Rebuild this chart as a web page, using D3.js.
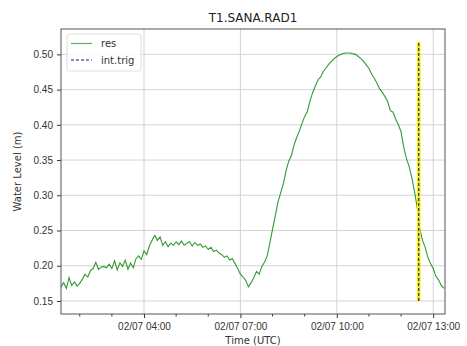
<html>
<head>
<script src="https://d3js.org/d3.v7.min.js"></script>
<style>
  body { margin: 0; background: #fff; }
  svg { font-family: "DejaVu Sans", sans-serif; }
</style>
</head>
<body>
<svg id="chart"></svg>
<script>
// res series: 5-minute samples from 02/07 01:25 UTC to 13:20 UTC
const startTime = "2024-02-07T01:25:00Z";
const stepMinutes = 5;
const resValues = [
  0.170, 0.176, 0.168, 0.183, 0.172, 0.177, 0.171, 0.175, 0.181, 0.188, 0.184, 0.193,
  0.196, 0.205, 0.195, 0.198, 0.199, 0.197, 0.202, 0.196, 0.207, 0.194, 0.204, 0.199,
  0.208, 0.195, 0.204, 0.197, 0.210, 0.214, 0.209, 0.221, 0.216, 0.228, 0.236, 0.243,
  0.236, 0.241, 0.229, 0.234, 0.227, 0.232, 0.229, 0.234, 0.230, 0.235, 0.229, 0.232,
  0.234, 0.228, 0.233, 0.229, 0.231, 0.226, 0.228, 0.223, 0.226, 0.220, 0.222, 0.218,
  0.216, 0.212, 0.214, 0.208, 0.210, 0.203, 0.196, 0.188, 0.184, 0.179, 0.170, 0.176,
  0.183, 0.192, 0.188, 0.199, 0.205, 0.214, 0.232, 0.252, 0.270, 0.290, 0.303, 0.316,
  0.334, 0.348, 0.356, 0.371, 0.382, 0.391, 0.402, 0.412, 0.419, 0.434, 0.446, 0.455,
  0.464, 0.468, 0.476, 0.481, 0.486, 0.490, 0.494, 0.497, 0.499, 0.501, 0.502, 0.502,
  0.502, 0.501, 0.500, 0.497, 0.494, 0.490, 0.485, 0.480, 0.472, 0.466, 0.459, 0.451,
  0.446, 0.440, 0.433, 0.420, 0.418, 0.408, 0.400, 0.390, 0.368, 0.352, 0.341, 0.325,
  0.306, 0.283, 0.252, 0.236, 0.226, 0.212, 0.203, 0.196, 0.185, 0.180, 0.172, 0.168
];

// int.trig marker
const trigTime = "2024-02-07T12:33:00Z";
const trigRange = [0.15, 0.518];

// axes
const xDomain = ["2024-02-07T01:25:00Z", "2024-02-07T13:22:00Z"];
const yDomain = [0.1315, 0.536];
const xTicks = ["2024-02-07T04:00:00Z", "2024-02-07T07:00:00Z", "2024-02-07T10:00:00Z", "2024-02-07T13:00:00Z"];
const xMinorTicks = ["02:00", "03:00", "05:00", "06:00", "08:00", "09:00", "11:00", "12:00"];
const yTicks = [0.15, 0.20, 0.25, 0.30, 0.35, 0.40, 0.45, 0.50];

const width = 467, height = 346;
const margin = { top: 29, right: 22, bottom: 32, left: 61 };

const svg = d3.select("#chart").attr("width", width).attr("height", height);

const t0 = new Date(startTime);
const data = resValues.map((v, i) => ({ t: new Date(+t0 + i * stepMinutes * 60000), v: v }));

const x = d3.scaleUtc()
    .domain(xDomain.map(d => new Date(d)))
    .range([margin.left, width - margin.right]);
const y = d3.scaleLinear()
    .domain(yDomain)
    .range([height - margin.bottom, margin.top]);

// grid
svg.append("g")
    .selectAll("line")
    .data(yTicks)
    .join("line")
    .attr("x1", margin.left).attr("x2", width - margin.right)
    .attr("y1", d => y(d)).attr("y2", d => y(d))
    .attr("stroke", "#d4d4d4").attr("stroke-width", 1);
svg.append("g")
    .selectAll("line")
    .data(xTicks)
    .join("line")
    .attr("x1", d => x(new Date(d))).attr("x2", d => x(new Date(d)))
    .attr("y1", margin.top).attr("y2", height - margin.bottom)
    .attr("stroke", "#d4d4d4").attr("stroke-width", 1);

// res line
const line = d3.line().x(d => x(d.t)).y(d => y(d.v));
svg.append("path")
    .datum(data)
    .attr("fill", "none")
    .attr("stroke", "green")
    .attr("stroke-opacity", 0.8)
    .attr("stroke-width", 1.1)
    .attr("stroke-linejoin", "miter")
    .attr("d", line);

// trigger line
const tx = x(new Date(trigTime));
svg.append("line")
    .attr("x1", tx).attr("x2", tx)
    .attr("y1", y(trigRange[0])).attr("y2", y(trigRange[1]))
    .attr("stroke", "#f5ee00").attr("stroke-width", 3.5);
svg.append("line")
    .attr("x1", tx).attr("x2", tx)
    .attr("y1", y(trigRange[0])).attr("y2", y(trigRange[1]))
    .attr("stroke", "#1a1a60").attr("stroke-width", 1.1)
    .attr("stroke-dasharray", "3,2");

// axes
const xAxis = svg.append("g")
    .attr("transform", `translate(0,${height - margin.bottom})`)
    .call(d3.axisBottom(x)
        .tickValues(xTicks.map(d => new Date(d)))
        .tickFormat(d3.utcFormat("%m/%d %H:%M"))
        .tickSize(4).tickPadding(5));
xAxis.selectAll(".tick text").attr("font-size", 10).attr("fill", "#333");
xAxis.selectAll(".tick line").attr("stroke", "#333");
xAxis.select(".domain").remove();

svg.append("g")
    .selectAll("line")
    .data(xMinorTicks)
    .join("line")
    .attr("x1", d => x(new Date(`2024-02-07T${d}:00Z`)))
    .attr("x2", d => x(new Date(`2024-02-07T${d}:00Z`)))
    .attr("y1", height - margin.bottom)
    .attr("y2", height - margin.bottom + 2.5)
    .attr("stroke", "#333");

const yAxis = svg.append("g")
    .attr("transform", `translate(${margin.left},0)`)
    .call(d3.axisLeft(y)
        .tickValues(yTicks)
        .tickFormat(d3.format(".2f"))
        .tickSize(4).tickPadding(4));
yAxis.selectAll(".tick text").attr("font-size", 10).attr("fill", "#333");
yAxis.selectAll(".tick line").attr("stroke", "#333");
yAxis.select(".domain").remove();

// frame
svg.append("rect")
    .attr("x", margin.left).attr("y", margin.top)
    .attr("width", width - margin.left - margin.right)
    .attr("height", height - margin.top - margin.bottom)
    .attr("fill", "none").attr("stroke", "#555").attr("stroke-width", 1);

// labels
svg.append("text")
    .attr("x", (margin.left + width - margin.right) / 2).attr("y", 22)
    .attr("text-anchor", "middle").attr("font-size", 12).attr("fill", "#222")
    .text("T1.SANA.RAD1");
svg.append("text")
    .attr("x", (margin.left + width - margin.right) / 2).attr("y", 344)
    .attr("text-anchor", "middle").attr("font-size", 10).attr("fill", "#333")
    .text("Time (UTC)");
svg.append("text")
    .attr("transform", `translate(21,${(margin.top + height - margin.bottom) / 2}) rotate(-90)`)
    .attr("text-anchor", "middle").attr("font-size", 10).attr("fill", "#333")
    .text("Water Level (m)");

// legend
const legend = svg.append("g").attr("transform", "translate(67,34)");
legend.append("rect")
    .attr("width", 74).attr("height", 37).attr("rx", 2.5)
    .attr("fill", "#fff").attr("fill-opacity", 0.85)
    .attr("stroke", "#ddd");
legend.append("line")
    .attr("x1", 4).attr("x2", 25).attr("y1", 9.5).attr("y2", 9.5)
    .attr("stroke", "green").attr("stroke-opacity", 0.6).attr("stroke-width", 1.3);
legend.append("text")
    .attr("x", 34).attr("y", 13).attr("font-size", 10).attr("fill", "#333")
    .text("res");
legend.append("line")
    .attr("x1", 4).attr("x2", 25).attr("y1", 26).attr("y2", 26)
    .attr("stroke", "#1a1a80").attr("stroke-width", 1.1).attr("stroke-dasharray", "3,2");
legend.append("text")
    .attr("x", 34).attr("y", 29.5).attr("font-size", 10).attr("fill", "#333")
    .text("int.trig");
</script>
</body>
</html>
